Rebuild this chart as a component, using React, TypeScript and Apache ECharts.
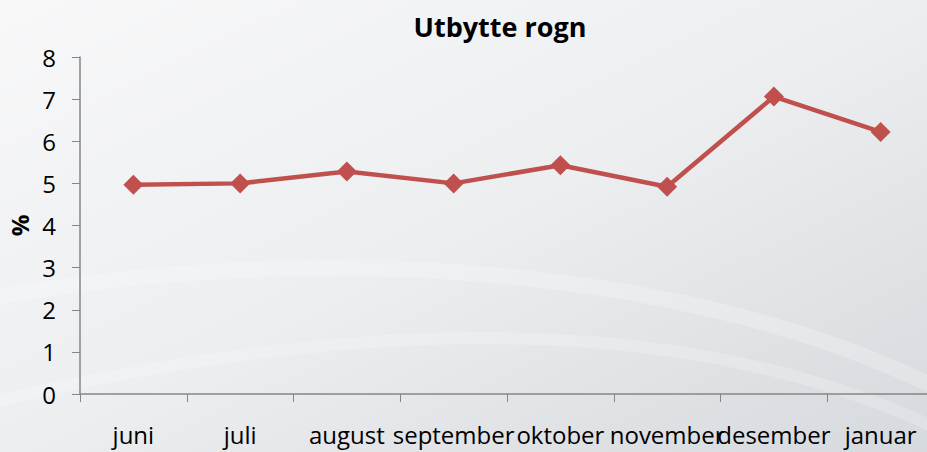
import React, { useEffect, useRef } from "react";
import * as echarts from "echarts";

const categories = ["juni", "juli", "august", "september", "oktober", "november", "desember", "januar"];
const values = [4.97, 5.0, 5.28, 5.0, 5.43, 4.92, 7.06, 6.22];
const yTicks = { min: 0, max: 8, interval: 1 };
const titleText = "Utbytte rogn";
const yName = "%";

export default function App() {
  const ref = useRef<HTMLDivElement>(null);
  useEffect(() => {
    if (!ref.current) return;
    const chart = echarts.init(ref.current, undefined, { renderer: "svg" });
    const font = "'Open Sans', 'Noto Sans', sans-serif";
    chart.setOption({
      animation: false,
      backgroundColor: new echarts.graphic.LinearGradient(0, 0, 1, 1, [
        { offset: 0, color: "#f8f8f9" },
        { offset: 0.5, color: "#eceef0" },
        { offset: 1, color: "#d6d9dd" },
      ]),
      graphic: [
        {
          type: "bezierCurve",
          silent: true,
          z: -10,
          shape: { x1: -20, y1: 300, cpx1: 300, cpy1: 240, cpx2: 700, cpy2: 260, x2: 960, y2: 400 },
          style: { stroke: "rgba(255,255,255,0.22)", lineWidth: 16, fill: null },
        },
        {
          type: "bezierCurve",
          silent: true,
          z: -10,
          shape: { x1: -20, y1: 405, cpx1: 250, cpy1: 340, cpx2: 650, cpy2: 280, x2: 960, y2: 440 },
          style: { stroke: "rgba(255,255,255,0.2)", lineWidth: 12, fill: null },
        },
      ],
      title: {
        text: titleText,
        left: 495,
        top: 8,
        textAlign: "center",
        textStyle: { fontFamily: font, fontWeight: "bold", fontSize: 27, color: "#000" },
      },
      grid: { left: 80, top: 57, width: 854, bottom: 58, containLabel: false, outerBoundsMode: "none" },
      xAxis: {
        type: "category",
        data: categories,
        boundaryGap: true,
        axisLine: { lineStyle: { color: "#868686", width: 1.5 } },
        axisTick: { show: true, length: 8, inside: false, alignWithLabel: false, lineStyle: { color: "#868686" } },
        axisLabel: { color: "#000", fontFamily: font, fontSize: 24, margin: 28, interval: 0 },
      },
      yAxis: {
        type: "value",
        min: yTicks.min,
        max: yTicks.max,
        interval: yTicks.interval,
        name: yName,
        nameLocation: "middle",
        nameRotate: 90,
        nameGap: 46,
        nameTextStyle: { fontFamily: font, fontWeight: "bold", fontSize: 24, color: "#000" },
        axisLine: { show: true, lineStyle: { color: "#868686", width: 1.5 } },
        axisTick: { show: true, length: 8, lineStyle: { color: "#868686" } },
        splitLine: { show: false },
        axisLabel: { color: "#000", fontFamily: font, fontSize: 24, margin: 24 },
      },
      series: [
        {
          type: "line",
          data: values,
          symbol: "diamond",
          symbolSize: 20,
          lineStyle: { color: "#C0504D", width: 4.5 },
          itemStyle: { color: "#C0504D" },
        },
      ],
    });
    return () => chart.dispose();
  }, []);
  return <div ref={ref} style={{ width: 927, height: 452, position: "absolute", left: 0, top: 0 }} />;
}
